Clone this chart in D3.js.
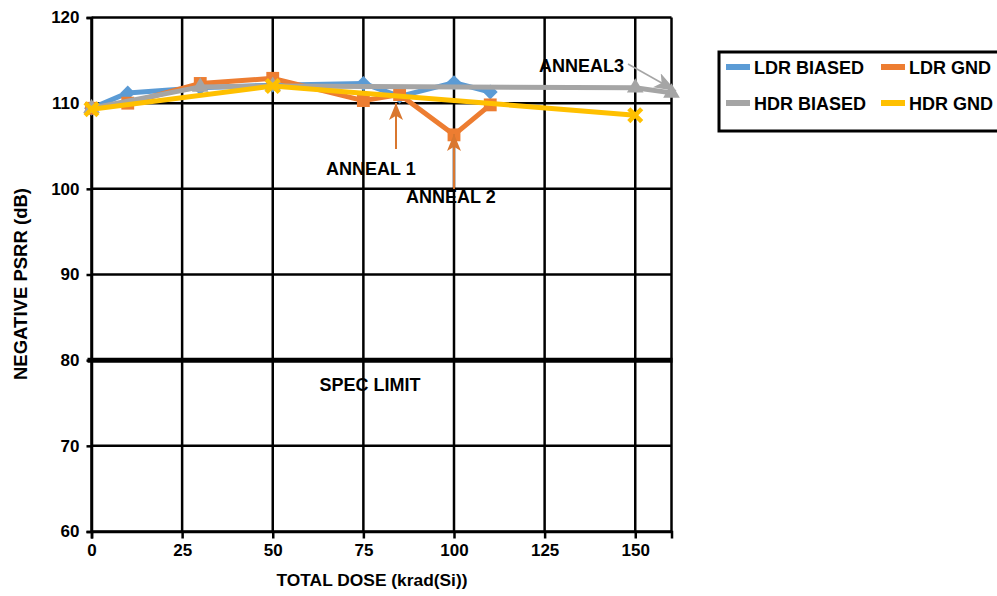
<!DOCTYPE html>
<html>
<head>
<meta charset="utf-8">
<script src="https://cdn.jsdelivr.net/npm/d3@7"></script>
<style>
  html, body { margin: 0; padding: 0; background: #fff; }
  svg { display: block; font-family: "Liberation Sans", Arial, sans-serif; font-weight: bold; }
</style>
</head>
<body>
<svg id="chart" width="997" height="596"></svg>
<script>
// Total dose (krad(Si)) for each series
const doseLdrBiased = [0, 10, 30, 50, 75, 85, 100, 110];
const doseLdrGnd    = [0, 10, 30, 50, 75, 85, 100, 110];
const doseHdrBiased = [0, 30, 50, 150, 160];
const doseHdrGnd    = [0, 50, 150];

// Negative PSRR (dB)
const ldrBiased = [109.4, 111.2, 111.8, 112.1, 112.3, 110.8, 112.4, 111.3];
const ldrGnd    = [109.4, 110.0, 112.3, 112.9, 110.3, 111.0, 106.3, 109.8];
const hdrBiased = [109.4, 111.9, 112.0, 111.8, 111.2];
const hdrGnd    = [109.3, 112.0, 108.6];

const seriesNames = ["LDR BIASED", "LDR GND", "HDR BIASED", "HDR GND"];
const seriesColors = ["#5B9BD5", "#ED7D31", "#A5A5A5", "#FFC000"];

const xTicks = [0, 25, 50, 75, 100, 125, 150];
const yTicks = [60, 70, 80, 90, 100, 110, 120];
const specLimit = 80;

const svg = d3.select("#chart");
const x = d3.scaleLinear().domain([0, 160]).range([91.5, 671.5]);
const y = d3.scaleLinear().domain([60, 120]).range([531.5, 17.5]);

// grid
const grid = svg.append("g").attr("stroke", "#000").attr("stroke-width", 2.5);
grid.selectAll("line.v").data(xTicks.concat([160])).join("line")
  .attr("x1", d => x(d)).attr("x2", d => x(d))
  .attr("y1", y(60)).attr("y2", y(120));
grid.selectAll("line.h").data(yTicks).join("line")
  .attr("x1", x(0)).attr("x2", x(160))
  .attr("y1", d => y(d)).attr("y2", d => y(d));

// axes
const xAxis = svg.append("g").attr("transform", `translate(0,${y(60)})`)
  .call(d3.axisBottom(x).tickValues(xTicks).tickSize(7).tickPadding(5));
const yAxis = svg.append("g").attr("transform", `translate(${x(0)},0)`)
  .call(d3.axisLeft(y).tickValues(yTicks).tickSize(5).tickPadding(7));
[xAxis, yAxis].forEach(a => {
  a.select(".domain").attr("stroke", "#000").attr("stroke-width", 2.5);
  a.selectAll(".tick line").attr("stroke", "#000").attr("stroke-width", 2.5);
  a.selectAll(".tick text").attr("fill", "#000")
    .style("font-size", "17px").style("font-weight", "bold")
    .style("font-family", "'Liberation Sans', Arial, sans-serif");
});

// spec limit
svg.append("line")
  .attr("x1", x(0) - 4).attr("x2", x(160) + 1)
  .attr("y1", y(specLimit)).attr("y2", y(specLimit))
  .attr("stroke", "#000").attr("stroke-width", 5);
svg.append("text").attr("x", 370).attr("y", 391).attr("text-anchor", "middle")
  .style("font-size", "18px").text("SPEC LIMIT");

// series
const series = [
  { xs: doseLdrBiased, ys: ldrBiased, sym: "diamond" },
  { xs: doseLdrGnd,    ys: ldrGnd,    sym: "square" },
  { xs: doseHdrBiased, ys: hdrBiased, sym: "triangle" },
  { xs: doseHdrGnd,    ys: hdrGnd,    sym: "x" }
];
const line = d3.line().x(d => x(d[0])).y(d => y(d[1]));

function drawMarker(g, sym, color, cx, cy) {
  const t = `translate(${cx},${cy})`;
  if (sym === "x") {
    g.append("path").attr("transform", t)
      .attr("d", d3.symbol(d3.symbolX, 110)())
      .attr("fill", "none").attr("stroke", color).attr("stroke-width", 4.5);
  } else if (sym === "diamond") {
    // square turned 45 degrees
    g.append("path").attr("transform", t + " rotate(45)")
      .attr("d", d3.symbol(d3.symbolSquare, 110)())
      .attr("fill", color);
  } else {
    const type = sym === "square" ? d3.symbolSquare : d3.symbolTriangle;
    g.append("path").attr("transform", t)
      .attr("d", d3.symbol(type, sym === "square" ? 165 : 120)())
      .attr("fill", color);
  }
}

series.forEach((s, i) => {
  const g = svg.append("g");
  const pts = s.xs.map((d, j) => [d, s.ys[j]]);
  g.append("path").datum(pts).attr("d", line)
    .attr("fill", "none").attr("stroke", seriesColors[i])
    .attr("stroke-width", 5).attr("stroke-linejoin", "round");
  pts.forEach(p => drawMarker(g, s.sym, seriesColors[i], x(p[0]), y(p[1])));
});

// annotations
const defs = svg.append("defs");
function arrowHead(id, color, w, h) {
  defs.append("marker").attr("id", id)
    .attr("viewBox", `0 0 ${h} ${w}`).attr("refX", h).attr("refY", w / 2)
    .attr("markerUnits", "userSpaceOnUse")
    .attr("markerWidth", h).attr("markerHeight", w).attr("orient", "auto")
    .append("path").attr("d", `M0,0 L${h},${w / 2} L0,${w} L${h * 0.25},${w / 2} Z`).attr("fill", color);
}
arrowHead("headOrange", "#D9772F", 14, 17);
arrowHead("headGray", "#A5A5A5", 16, 22);

svg.append("line").attr("x1", 396).attr("y1", 149).attr("x2", 396).attr("y2", 103)
  .attr("stroke", "#D9772F").attr("stroke-width", 2).attr("marker-end", "url(#headOrange)");
svg.append("text").attr("x", 326).attr("y", 175).style("font-size", "18px").text("ANNEAL 1");

svg.append("line").attr("x1", 454).attr("y1", 189).attr("x2", 454).attr("y2", 134)
  .attr("stroke", "#D9772F").attr("stroke-width", 2).attr("marker-end", "url(#headOrange)");
svg.append("text").attr("x", 406).attr("y", 203).style("font-size", "18px").text("ANNEAL 2");

svg.append("line").attr("x1", 628).attr("y1", 64).attr("x2", 676).attr("y2", 91)
  .attr("stroke", "#A5A5A5").attr("stroke-width", 1.5).attr("marker-end", "url(#headGray)");
svg.append("text").attr("x", 539).attr("y", 72).style("font-size", "18px").text("ANNEAL3");

// axis titles
svg.append("text").attr("x", 372).attr("y", 586).attr("text-anchor", "middle")
  .style("font-size", "17px").attr("textLength", 191).attr("lengthAdjust", "spacingAndGlyphs")
  .text("TOTAL DOSE (krad(Si))");
svg.append("text").attr("transform", "translate(27,284) rotate(-90)").attr("text-anchor", "middle")
  .style("font-size", "18px").attr("textLength", 192).attr("lengthAdjust", "spacingAndGlyphs")
  .text("NEGATIVE PSRR (dB)");

// legend
const legend = svg.append("g");
legend.append("rect").attr("x", 719).attr("y", 52).attr("width", 300).attr("height", 79)
  .attr("fill", "#fff").attr("stroke", "#000").attr("stroke-width", 3);
const legendPos = [[726, 67], [881, 67], [726, 103], [881, 103]];
seriesNames.forEach((name, i) => {
  const [lx, ly] = legendPos[i];
  legend.append("line").attr("x1", lx).attr("x2", lx + 24).attr("y1", ly).attr("y2", ly)
    .attr("stroke", seriesColors[i]).attr("stroke-width", 6);
  legend.append("text").attr("x", lx + 28).attr("y", ly + 6.5)
    .style("font-size", "18px").text(name);
});
</script>
</body>
</html>
